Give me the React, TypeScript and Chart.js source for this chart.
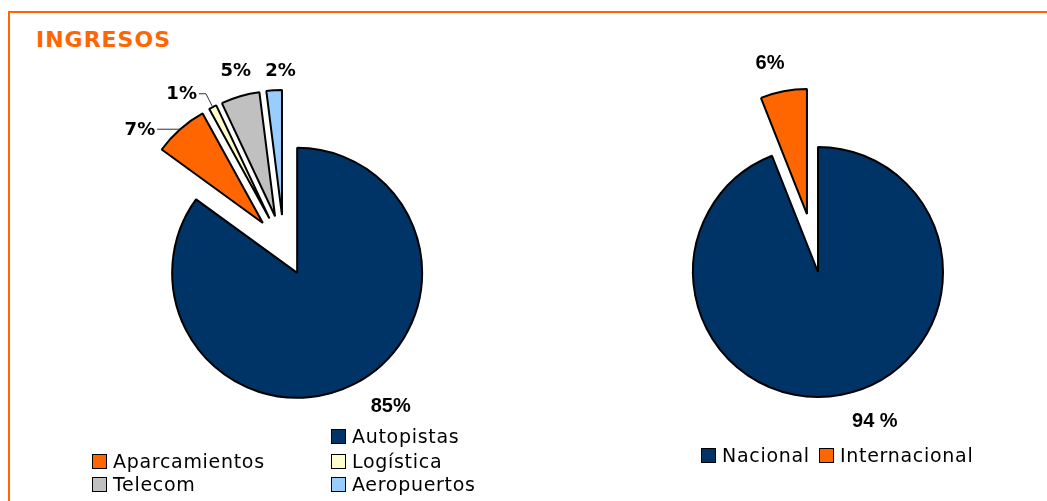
import React, { useEffect, useRef } from "react";
import { Chart, registerables } from "chart.js";

Chart.register(...registerables);

// ---------- data ----------
const segmentLabels = ["Autopistas", "Aparcamientos", "Logística", "Telecom", "Aeropuertos"];
const segmentValues = [85, 7, 1, 5, 2];
const segmentText = ["85%", "7%", "1%", "5%", "2%"];

const regionLabels = ["Nacional", "Internacional"];
const regionValues = [94, 6];
const regionText = ["94 %", "6%"];

const titleText = "INGRESOS";

// ---------- styles ----------
const NAVY = "#003366";
const ORANGE = "#FF6600";
const CREAM = "#FFFFCC";
const GREY = "#C0C0C0";
const SKY = "#99CCFF";

const segmentColors = [NAVY, ORANGE, CREAM, GREY, SKY];
const regionColors = [NAVY, ORANGE];

const ARIAL = "bold 20px 'Liberation Sans', Arial, sans-serif";
const VERD = "bold 18px 'DejaVu Sans', Verdana, sans-serif";

type LabelStyle = { font: string; shift?: number; extra?: number; leader?: number; gap?: number };

const segmentExplode = [29, 32, 32, 32, 32];
const segmentLabelStyle: LabelStyle[] = [
  { font: ARIAL, shift: -8, extra: 38 },
  { font: VERD, leader: 0, gap: 23 },
  { font: VERD, leader: 15, gap: 7 },
  { font: VERD, shift: 1, extra: 25 },
  { font: VERD, shift: 3, extra: 19 },
];

const regionExplode = [0, 59];
const regionLabelStyle: LabelStyle[] = [
  { font: ARIAL, shift: -10, extra: 35 },
  { font: ARIAL, shift: -3, extra: 30 },
];

const pieDecor = {
  id: "pieDecor",
  beforeDatasetDraw(chart: any, args: any, opts: any) {
    const meta = chart.getDatasetMeta(args.index);
    const ctx = chart.ctx;
    meta.data.forEach((el: any, i: number) => {
      const d = (opts.explode && opts.explode[i]) || 0;
      const mid = (el.startAngle + el.endAngle) / 2;
      ctx.save();
      ctx.translate(Math.cos(mid) * d, Math.sin(mid) * d);
      el.draw(ctx, chart.chartArea);
      ctx.restore();
    });
    return false;
  },
  afterDatasetsDraw(chart: any, _args: any, opts: any) {
    const meta = chart.getDatasetMeta(0);
    const ctx = chart.ctx;
    meta.data.forEach((el: any, i: number) => {
      const st: LabelStyle = opts.styles[i];
      const text: string = opts.texts[i];
      if (!st || !text) return;
      const d = (opts.explode && opts.explode[i]) || 0;
      const mid = (el.startAngle + el.endAngle) / 2;
      const vx = el.x + Math.cos(mid) * d;
      const vy = el.y + Math.sin(mid) * d;
      const R = el.outerRadius;
      ctx.save();
      ctx.font = st.font;
      ctx.fillStyle = "#000";
      ctx.textBaseline = "middle";
      if (st.leader != null) {
        const px = vx + Math.cos(mid) * R;
        const py = vy + Math.sin(mid) * R;
        const ex = px + Math.cos(mid) * st.leader;
        const ey = py + Math.sin(mid) * st.leader;
        const lx = ex - (st.gap || 0);
        ctx.strokeStyle = "#333";
        ctx.lineWidth = 1;
        ctx.beginPath();
        ctx.moveTo(px, py);
        ctx.lineTo(ex, ey);
        ctx.lineTo(lx, ey);
        ctx.stroke();
        ctx.textAlign = "right";
        ctx.fillText(text, lx - 2, ey + 1);
      } else {
        const a = mid + ((st.shift || 0) * Math.PI) / 180;
        const r = R + (st.extra || 0);
        ctx.textAlign = "center";
        ctx.fillText(text, vx + Math.cos(a) * r, vy + Math.sin(a) * r);
      }
      ctx.restore();
    });
  },
};

function PieCanvas(props: {
  labels: string[];
  values: number[];
  colors: string[];
  explode: number[];
  texts: string[];
  styles: LabelStyle[];
  left: number;
  width: number;
  height: number;
  padding: { left: number; right: number; top: number; bottom: number };
}) {
  const ref = useRef<HTMLCanvasElement | null>(null);
  useEffect(() => {
    if (!ref.current) return;
    const chart = new Chart(ref.current, {
      type: "pie",
      data: {
        labels: props.labels,
        datasets: [
          {
            data: props.values,
            backgroundColor: props.colors,
            borderColor: "#000",
            borderWidth: 2,
            offset: 0,
            hoverOffset: 0,
          },
        ],
      },
      options: {
        responsive: false,
        animation: false,
        events: [],
        radius: 125,
        layout: { padding: props.padding },
        plugins: {
          legend: { display: false },
          tooltip: { enabled: false },
          title: { display: false },
          pieDecor: { explode: props.explode, texts: props.texts, styles: props.styles },
        } as any,
      } as any,
      plugins: [pieDecor as any],
    });
    return () => chart.destroy();
  }, []);
  return (
    <canvas
      ref={ref}
      width={props.width}
      height={props.height}
      style={{ position: "absolute", left: props.left, top: 0, width: props.width, height: props.height }}
    />
  );
}

type Slot = { x: number; y: number };
const segmentLegendSlots: Slot[] = [
  { x: 331, y: 429 },
  { x: 92, y: 454 },
  { x: 331, y: 454 },
  { x: 92, y: 477 },
  { x: 331, y: 477 },
];
const regionLegendSlots: Slot[] = [
  { x: 701, y: 448 },
  { x: 819, y: 448 },
];

function Legend(props: { labels: string[]; colors: string[]; slots: Slot[] }) {
  return (
    <>
      {props.labels.map((lab, i) => (
        <div key={lab} style={{ position: "absolute", left: props.slots[i].x, top: props.slots[i].y, height: 15, whiteSpace: "nowrap" }}>
          <div
            style={{
              position: "absolute",
              left: 0,
              top: 0,
              width: 15,
              height: 15,
              boxSizing: "border-box",
              border: "1.5px solid #000",
              background: props.colors[i],
            }}
          />
          <span
            style={{
              position: "absolute",
              left: 21,
              top: 0,
              fontFamily: "'DejaVu Sans', Verdana, sans-serif",
              fontSize: 19,
              letterSpacing: "0.7px",
              lineHeight: "15px",
              color: "#000",
            }}
          >
            {lab}
          </span>
        </div>
      ))}
    </>
  );
}

export default function App() {
  return (
    <div style={{ position: "fixed", left: 0, top: 0, width: 1047, height: 501, background: "#fff", overflow: "hidden" }}>
      <div
        style={{
          position: "absolute",
          left: 8,
          top: 11,
          width: 1047,
          height: 500,
          borderTop: `2px solid ${ORANGE}`,
          borderLeft: `2px solid ${ORANGE}`,
        }}
      />
      <div
        style={{
          position: "absolute",
          left: 36,
          top: 29,
          fontFamily: "'DejaVu Sans', Verdana, sans-serif",
          fontWeight: "bold",
          fontSize: 22,
          letterSpacing: "1px",
          lineHeight: "22px",
          color: ORANGE,
        }}
      >
        {titleText}
      </div>
      <PieCanvas
        labels={segmentLabels}
        values={segmentValues}
        colors={segmentColors}
        explode={segmentExplode}
        texts={segmentText}
        styles={segmentLabelStyle}
        left={0}
        width={568}
        height={501}
        padding={{ left: 0, right: 0, top: 0, bottom: 7 }}
      />
      <PieCanvas
        labels={regionLabels}
        values={regionValues}
        colors={regionColors}
        explode={regionExplode}
        texts={regionText}
        styles={regionLabelStyle}
        left={568}
        width={479}
        height={501}
        padding={{ left: 21, right: 0, top: 43, bottom: 0 }}
      />
      <Legend labels={segmentLabels} colors={segmentColors} slots={segmentLegendSlots} />
      <Legend labels={regionLabels} colors={regionColors} slots={regionLegendSlots} />
    </div>
  );
}
